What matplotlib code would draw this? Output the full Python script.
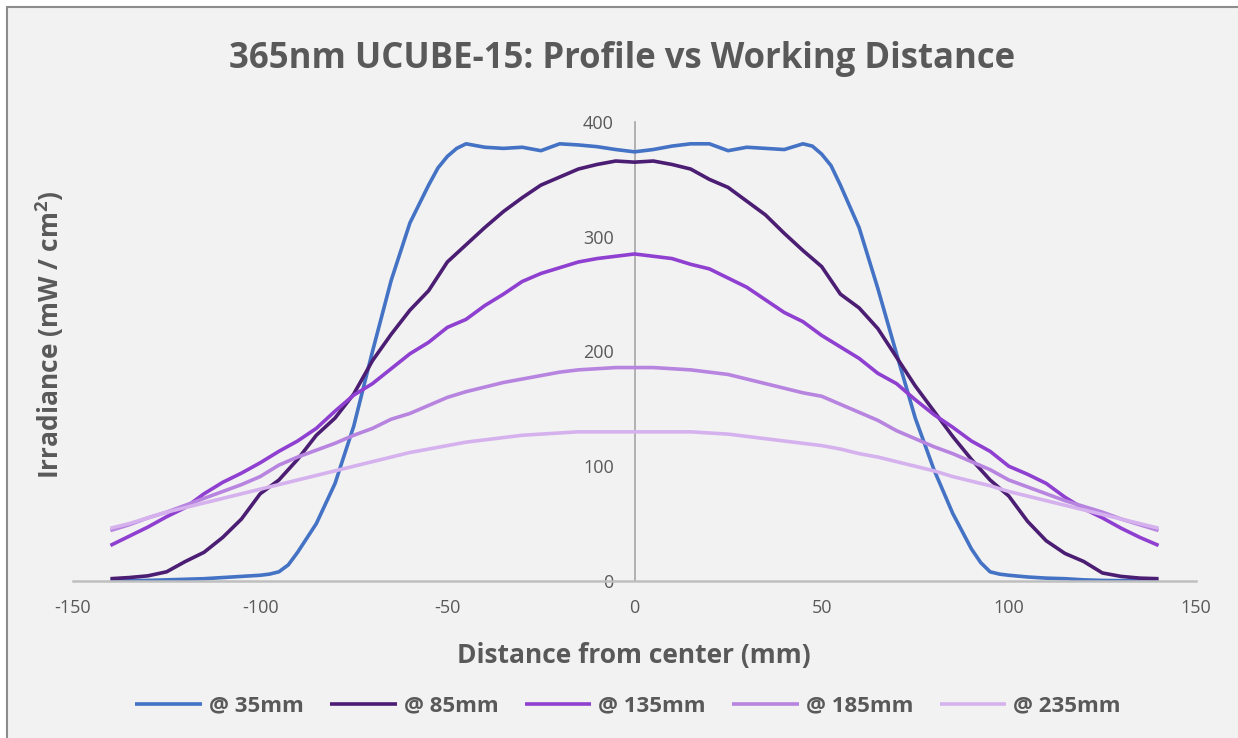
import matplotlib
matplotlib.use("Agg")
import matplotlib.pyplot as plt

# ---------------- data ----------------
distance_mm = [-140, -135, -130, -125, -120, -115, -110, -105, -100, -95, -90, -85, -80, -75, -70,
               -65, -60, -55, -50, -45, -40, -35, -30, -25, -20, -15, -10, -5, 0,
               5, 10, 15, 20, 25, 30, 35, 40, 45, 50, 55, 60, 65, 70,
               75, 80, 85, 90, 95, 100, 105, 110, 115, 120, 125, 130, 135, 140]

# 35mm profile is sampled a little finer around its steep edges
distance_35mm = [-140, -135, -130, -125, -120, -115, -110, -105, -100, -97.5, -95, -92.5, -90, -85, -80, -75, -70,
                 -65, -60, -55, -52.5, -50, -47.5, -45, -40, -35, -30, -25, -20, -15, -10, -5, 0,
                 5, 10, 15, 20, 25, 30, 35, 40, 45, 47.5, 50, 52.5, 55, 60, 65, 70,
                 75, 80, 85, 90, 92.5, 95, 97.5, 100, 105, 110, 115, 120, 125, 130, 135, 140]

wd_35mm = [0, 0.3, 0.5, 1, 1.5, 2, 3, 4, 5, 6, 8, 14, 25, 50, 85, 135, 200,
           262, 312, 345, 360, 370, 377, 381, 378, 377, 378, 375, 381, 380, 378.5, 376, 374,
           376, 379, 381, 381, 375, 378, 377, 376, 381, 379, 372, 362, 345, 308, 255, 198,
           142, 97, 59, 28, 16, 8, 6, 5, 3.5, 2.5, 2, 1, 0.5, 0.3, 0.2, 0]

wd_85mm = [2, 3, 4.5, 8, 17, 25, 38, 54, 76, 88, 106, 127, 142, 163, 192,
           215, 236, 253, 278, 293, 308, 322, 334, 345, 352, 359, 363, 366, 365,
           366, 363, 359, 350, 343, 331, 319, 303, 288, 274, 250, 238, 220, 195,
           170, 148, 126, 106, 88, 74, 52, 35, 24, 17, 7, 4, 2.5, 2]

wd_135mm = [31, 39, 47, 56, 64, 76, 86, 94, 103, 113, 122, 133, 148, 162, 172,
            185, 198, 208, 221, 228, 240, 250, 261, 268, 273, 278, 281, 283, 285,
            283, 281, 276, 272, 264, 256, 245, 234, 226, 214, 204, 194, 181, 172,
            158, 145, 134, 122, 113, 100, 93, 85, 73, 63, 55, 46, 38, 31]

wd_185mm = [44, 49, 55, 60, 66, 72, 78, 84, 91, 101, 108, 114, 120, 127, 133,
            141, 146, 153, 160, 165, 169, 173, 176, 179, 182, 184, 185, 186, 186,
            186, 185, 184, 182, 180, 176, 172, 168, 164, 161, 154, 147, 140, 131,
            124, 117, 111, 104, 97, 88, 82, 76, 70, 65, 60, 54, 49, 44]

wd_235mm = [46, 50, 55, 60, 64, 68, 72, 76, 80, 84, 88, 92, 96, 100, 104,
            108, 112, 115, 118, 121, 123, 125, 127, 128, 129, 130, 130, 130, 130,
            130, 130, 130, 129, 128, 126, 124, 122, 120, 118, 115, 111, 108, 104,
            100, 96, 91, 87, 83, 78, 74, 70, 66, 62, 58, 54, 50, 46]

series_labels = ["@ 35mm", "@ 85mm", "@ 135mm", "@ 185mm", "@ 235mm"]
series_colors = ["#4472C4", "#4B1D73", "#8F40D0", "#B784E0", "#D5B2EE"]

x_ticks = [-150, -100, -50, 0, 50, 100, 150]
y_ticks = [0, 100, 200, 300, 400]

title = "365nm UCUBE-15: Profile vs Working Distance"
x_label = "Distance from center (mm)"
y_label = "Irradiance (mW / cm$^2$)"

# ---------------- plot ----------------
BG = "#F2F2F2"
TXT = "#595959"
plt.rcParams['font.family'] = ['Open Sans', 'DejaVu Sans']
plt.rcParams['axes.unicode_minus'] = False
plt.rcParams['mathtext.fontset'] = 'custom'
plt.rcParams['mathtext.rm'] = 'Open Sans'
plt.rcParams['mathtext.bf'] = 'Open Sans:bold'
plt.rcParams['mathtext.default'] = 'regular'

fig = plt.figure(figsize=(12.38, 7.38), dpi=100)
fig.patch.set_facecolor("white")
fig.add_artist(plt.Rectangle((7 / 1238, -0.01), 1.02, 1 - 7 / 738 + 0.01,
                             transform=fig.transFigure, facecolor=BG,
                             edgecolor="#8C8C8C", linewidth=1.5, zorder=-10))

ax = fig.add_axes([73 / 1238, 157 / 738, 1123 / 1238, 459 / 738])
ax.set_facecolor("none")

x_sets = [distance_35mm, distance_mm, distance_mm, distance_mm, distance_mm]
all_series = [wd_35mm, wd_85mm, wd_135mm, wd_185mm, wd_235mm]
for xs, vals, lab, col in zip(x_sets, all_series, series_labels, series_colors):
    ax.plot(xs, vals, color=col, linewidth=2.6, label=lab,
            solid_joinstyle="round", solid_capstyle="butt")

ax.set_xlim(-150, 150)
ax.set_ylim(0, 400)
ax.set_xticks(x_ticks)
ax.set_yticks(y_ticks)

for s in ["top", "right"]:
    ax.spines[s].set_visible(False)
ax.spines["left"].set_position(("data", 0))
ax.spines["left"].set_color("#A6A6A6")
ax.spines["left"].set_linewidth(1.2)
ax.spines["bottom"].set_color("#BFBFBF")
ax.spines["bottom"].set_linewidth(1.8)
ax.spines["left"].set_zorder(0.5)

ax.tick_params(axis="both", length=0, labelsize=13, labelcolor=TXT)
ax.tick_params(axis="x", pad=13)
ax.tick_params(axis="y", pad=15)

fig.text(622 / 1238, 1 - 59 / 738, title, ha="center", va="center",
         fontsize=25, fontweight="bold", color=TXT)
fig.text(634 / 1238, 1 - 656 / 738, x_label, ha="center", va="center",
         fontsize=19, fontweight="bold", color=TXT)
fig.text(50 / 1238, 1 - 335 / 738, y_label, ha="center", va="center", rotation=90,
         fontsize=19, fontweight="bold", color=TXT)

leg = fig.legend(loc="center", bbox_to_anchor=(628 / 1238, 1 - 706 / 738), ncol=5,
                 frameon=False, fontsize=16, handlelength=3.0, handletextpad=0.3,
                 columnspacing=1.2, labelcolor=TXT)
for t in leg.get_texts():
    t.set_fontweight("bold")

fig.savefig("out.png", dpi=100, facecolor=fig.get_facecolor())
